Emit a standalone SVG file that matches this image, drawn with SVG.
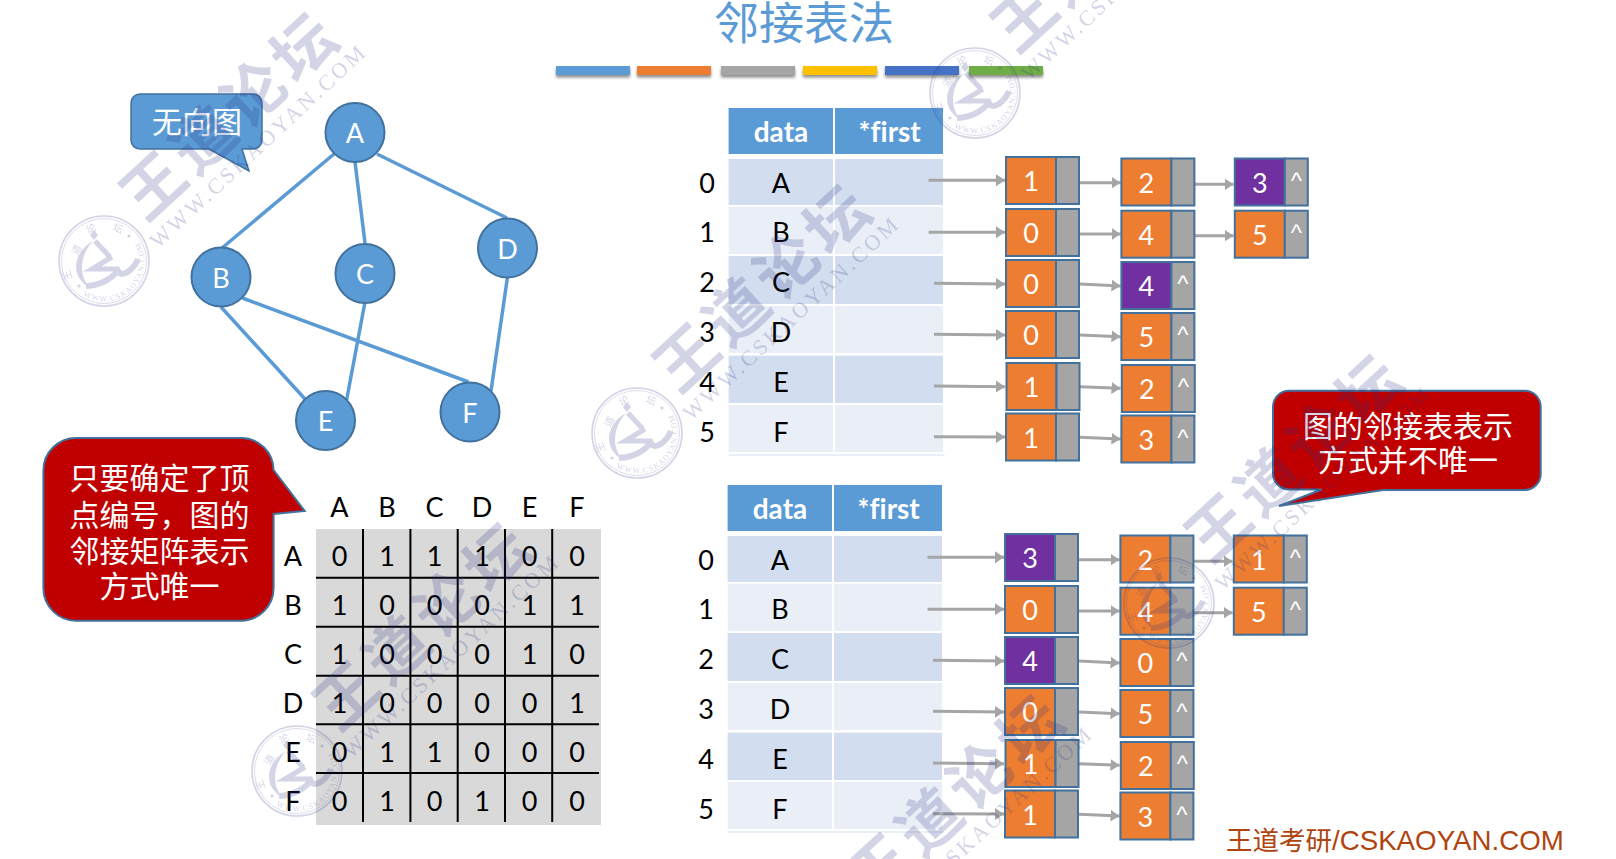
<svg xmlns="http://www.w3.org/2000/svg" xmlns:xlink="http://www.w3.org/1999/xlink" width="1616" height="859" viewBox="0 0 1616 859">
<style>
text{font-family:Lato,"Noto Sans CJK SC",sans-serif;text-anchor:middle;font-variant-ligatures:none}
.cjk{font-family:"Noto Sans CJK SC","Noto Sans",sans-serif;font-size:30px;fill:#fff}
.title{font-family:"Noto Sans CJK SC",sans-serif;font-size:45px;fill:#5b9bd5}
.v{font-size:27px;fill:#000}
.h{font-size:28px;font-weight:700;fill:#fff}
.w{font-size:27px;fill:#fff}
.c{font-size:24px;fill:#fff;font-family:"Liberation Sans",sans-serif}
.vert{fill:#5b9bd5;stroke:#41719c;stroke-width:2}
.edge{stroke:#5b9bd5;stroke-width:3.5;fill:none}
.arr{stroke:#a5a5a5;stroke-width:3;fill:none;marker-end:url(#ah)}
.hd{fill:#5b9bd5}.r1{fill:#d2deef}.r2{fill:#eaeff7}
.o{fill:#ed7d31;stroke:#41719c;stroke-width:2}
.p{fill:#7030a0;stroke:#41719c;stroke-width:2}
.g{fill:#a5a5a5;stroke:#41719c;stroke-width:2}
.gl{stroke:#000;stroke-width:2;fill:none}
.red{fill:#c00000;stroke:#41719c;stroke-width:2}
.wm{fill:#232d82}
.wms{fill:none;stroke:#232d82}
</style>
<defs>
<marker id="ah" markerUnits="userSpaceOnUse" markerWidth="11" markerHeight="13" refX="9" refY="6" orient="auto" viewBox="0 0 11 12"><path d="M0 0L9 6L0 12Z" fill="#a5a5a5"/></marker>
<filter id="sh" x="-10%" y="-50%" width="120%" height="220%"><feDropShadow dx="0" dy="2.5" stdDeviation="1.5" flood-color="#000" flood-opacity=".45"/></filter>
<path id="ringb" d="M-24 32A40 40 0 0 0 36 -18"/>
<g id="mark" opacity=".2">
<text class="wm" transform="translate(127,-146) rotate(-42.6)" y="22" style="font-family:'Noto Sans CJK SC',sans-serif;font-size:62px;font-weight:700;letter-spacing:6px">王道论坛</text>
<text class="wm" transform="translate(153,-114.500) rotate(-43)" y="8" textLength="285" style="font-family:'Liberation Serif',serif;font-size:22px">WWW.CSKAOYAN.COM</text>
<circle class="wms" r="45" stroke-width="1.6"/><circle class="wms" r="42.500" stroke-width=".8"/>
<g style="font-family:'Noto Sans CJK SC',sans-serif;font-size:10px">
<text class="wm" transform="translate(-36,14) rotate(-110)" y="3">王</text>
<text class="wm" transform="translate(-27,-11) rotate(-62)" y="3">道</text>
<text class="wm" transform="translate(-13,-32) rotate(-22)" y="3">论</text>
<text class="wm" transform="translate(14,-32) rotate(22)" y="3">坛</text>
</g>
<text class="wm" style="font-family:'Liberation Serif',serif;font-size:8px;letter-spacing:1.1px;text-anchor:start"><textPath href="#ringb" startOffset="4">WWW.CSKAOYAN.COM</textPath></text>
<path class="wm" d="M-11 -20C-32 -8-34 16-14 27C-26 14-24-6-11-20Z"/>
<path class="wms" stroke-width="5" d="M-9 -20L6 -4M8 -4L-12 8L14 8"/>
<path class="wms" stroke-width="6" d="M-18 25C0 24 8 16 14 10C18 18 30 8 34 -2"/>
<path class="wm" d="M-14 -26l4-5 4 5-4 5Z"/>
<circle class="wm" cx="25" cy="-25" r="1.6"/><circle class="wm" cx="-25" cy="25" r="1.6"/>
</g>
</defs>
<rect width="1616" height="859" fill="#fff"/>
<text class="title" x="804" y="39.500">邻接表法</text>
<g id="title-bars" filter="url(#sh)">
<rect x="556" y="66" width="74" height="9" fill="#5b9bd5"/>
<rect x="637" y="66" width="74" height="9" fill="#ed7d31"/>
<rect x="721" y="66" width="74" height="9" fill="#a5a5a5"/>
<rect x="803" y="66" width="74" height="9" fill="#ffc000"/>
<rect x="885" y="66" width="74" height="9" fill="#4472c4"/>
<rect x="969" y="66" width="74" height="9" fill="#70ad47"/>
</g>
<g id="callout-undirected">
<path d="M140 94H253a9 9 0 0 1 9 9V140a9 9 0 0 1-9 9H242L249 171L209 149H140a9 9 0 0 1-9-9V103a9 9 0 0 1 9-9Z" fill="#5b9bd5" stroke="#41719c" stroke-width="1.5"/>
<text class="cjk" x="197" y="133">无向图</text>
</g>
<g id="table1-array">
<rect class="hd" x="728.600" y="108" width="104.400" height="46"/><rect class="hd" x="835" y="108" width="108" height="46"/>
<rect class="r1" x="728.600" y="159" width="104.400" height="46"/><rect class="r1" x="835" y="159" width="108" height="46"/>
<rect class="r2" x="728.600" y="206.700" width="104.400" height="47.300"/><rect class="r2" x="835" y="206.700" width="108" height="47.300"/>
<rect class="r1" x="728.600" y="256" width="104.400" height="48"/><rect class="r1" x="835" y="256" width="108" height="48"/>
<rect class="r2" x="728.600" y="306" width="104.400" height="47"/><rect class="r2" x="835" y="306" width="108" height="47"/>
<rect class="r1" x="728.600" y="355.700" width="104.400" height="47.300"/><rect class="r1" x="835" y="355.700" width="108" height="47.300"/>
<rect class="r2" x="728.600" y="405" width="104.400" height="47"/><rect class="r2" x="835" y="405" width="108" height="47"/>
<rect class="r2" x="728.600" y="454" width="216" height="2"/>
<text class="h" x="781" y="142">data</text><text class="h" x="889.700" y="142">*first</text>
<text class="v" x="707" y="192.500">0</text><text class="v" x="781" y="192.500">A</text>
<text class="v" x="707" y="241.500">1</text><text class="v" x="781" y="241.500">B</text>
<text class="v" x="707" y="291.500">2</text><text class="v" x="781" y="291.500">C</text>
<text class="v" x="707" y="341.500">3</text><text class="v" x="781" y="341.500">D</text>
<text class="v" x="707" y="391.500">4</text><text class="v" x="781" y="391.500">E</text>
<text class="v" x="707" y="441.500">5</text><text class="v" x="781" y="441.500">F</text>
</g>
<g id="table2-array" transform="translate(-1,377)">
<rect class="hd" x="728.600" y="108" width="104.400" height="46"/><rect class="hd" x="835" y="108" width="108" height="46"/>
<rect class="r1" x="728.600" y="159" width="104.400" height="46"/><rect class="r1" x="835" y="159" width="108" height="46"/>
<rect class="r2" x="728.600" y="206.700" width="104.400" height="47.300"/><rect class="r2" x="835" y="206.700" width="108" height="47.300"/>
<rect class="r1" x="728.600" y="256" width="104.400" height="48"/><rect class="r1" x="835" y="256" width="108" height="48"/>
<rect class="r2" x="728.600" y="306" width="104.400" height="47"/><rect class="r2" x="835" y="306" width="108" height="47"/>
<rect class="r1" x="728.600" y="355.700" width="104.400" height="47.300"/><rect class="r1" x="835" y="355.700" width="108" height="47.300"/>
<rect class="r2" x="728.600" y="405" width="104.400" height="47"/><rect class="r2" x="835" y="405" width="108" height="47"/>
<rect class="r2" x="728.600" y="454" width="216" height="2"/>
<text class="h" x="781" y="142">data</text><text class="h" x="889.700" y="142">*first</text>
<text class="v" x="707" y="192.500">0</text><text class="v" x="781" y="192.500">A</text>
<text class="v" x="707" y="241.500">1</text><text class="v" x="781" y="241.500">B</text>
<text class="v" x="707" y="291.500">2</text><text class="v" x="781" y="291.500">C</text>
<text class="v" x="707" y="341.500">3</text><text class="v" x="781" y="341.500">D</text>
<text class="v" x="707" y="391.500">4</text><text class="v" x="781" y="391.500">E</text>
<text class="v" x="707" y="441.500">5</text><text class="v" x="781" y="441.500">F</text>
</g>
<g id="connectors">
<path class="edge" d="M334 154L222 248M355 162L365 243M377 154L507 218M221 307L305 399M242.500 298L468.500 382M365 302L346.600 400M507.500 277L491 391"/>
<g id="t1-arrows">
<path class="arr" d="M928.600 180.300H1005"/><path class="arr" d="M928.600 232.300H1005"/><path class="arr" d="M934 283.300L1005 284"/><path class="arr" d="M934 334.300L1005 335"/><path class="arr" d="M934 386L1005 386.700"/><path class="arr" d="M934 436.700L1005 437"/>
<path class="arr" d="M1080 182.700H1120.500"/><path class="arr" d="M1080 234H1120.500"/><path class="arr" d="M1080 284L1120.500 286"/><path class="arr" d="M1080 335L1120.500 336.700"/><path class="arr" d="M1080 386.700L1120.500 388.300"/><path class="arr" d="M1080 437.300L1120.500 439"/>
<path class="arr" d="M1194 184.300H1233.500"/><path class="arr" d="M1194 235.700H1233.500"/>
</g>
<g id="t2-arrows" transform="translate(-1,377)">
<path class="arr" d="M928.600 180.300H1005"/><path class="arr" d="M928.600 232.300H1005"/><path class="arr" d="M934 283.300L1005 284"/><path class="arr" d="M934 334.300L1005 335"/><path class="arr" d="M934 386L1005 386.700"/><path class="arr" d="M934 436.700L1005 437"/>
<path class="arr" d="M1080 182.700H1120.500"/><path class="arr" d="M1080 234H1120.500"/><path class="arr" d="M1080 284L1120.500 286"/><path class="arr" d="M1080 335L1120.500 336.700"/><path class="arr" d="M1080 386.700L1120.500 388.300"/><path class="arr" d="M1080 437.300L1120.500 439"/>
<path class="arr" d="M1194 184.300H1233.500"/><path class="arr" d="M1194 235.700H1233.500"/>
</g>
</g>
<g id="v-A"><circle class="vert" cx="355" cy="132.500" r="29.500"/><text class="w" x="355" y="143">A</text></g>
<g id="v-B"><circle class="vert" cx="221" cy="277" r="29.500"/><text class="w" x="221" y="288">B</text></g>
<g id="v-C"><circle class="vert" cx="365" cy="273.500" r="29.500"/><text class="w" x="365" y="284">C</text></g>
<g id="v-D"><circle class="vert" cx="507.500" cy="248" r="29.500"/><text class="w" x="507.500" y="259">D</text></g>
<g id="v-E"><circle class="vert" cx="325.500" cy="420.500" r="29.500"/><text class="w" x="325.500" y="431">E</text></g>
<g id="v-F"><circle class="vert" cx="470" cy="412" r="29.500"/><text class="w" x="470" y="423">F</text></g>
<g id="t1-nodes">
<g id="t1-n00" transform="translate(1006,157)"><rect class="o" width="50" height="47"/><rect class="g" x="50" width="23" height="47"/><text class="w" x="25" y="34">1</text></g>
<g id="t1-n01" transform="translate(1121.400,158.500)"><rect class="o" width="50" height="47"/><rect class="g" x="50" width="23" height="47"/><text class="w" x="25" y="34">2</text></g>
<g id="t1-n02" transform="translate(1234.800,158.500)"><rect class="p" width="50" height="47"/><rect class="g" x="50" width="23" height="47"/><text class="w" x="25" y="34">3</text><text class="c" x="61.500" y="30">^</text></g>
<g id="t1-n10" transform="translate(1006,209)"><rect class="o" width="50" height="47"/><rect class="g" x="50" width="23" height="47"/><text class="w" x="25" y="34">0</text></g>
<g id="t1-n11" transform="translate(1121.400,210.700)"><rect class="o" width="50" height="47"/><rect class="g" x="50" width="23" height="47"/><text class="w" x="25" y="34">4</text></g>
<g id="t1-n12" transform="translate(1234.800,210.700)"><rect class="o" width="50" height="47"/><rect class="g" x="50" width="23" height="47"/><text class="w" x="25" y="34">5</text><text class="c" x="61.500" y="30">^</text></g>
<g id="t1-n20" transform="translate(1006,260)"><rect class="o" width="50" height="47"/><rect class="g" x="50" width="23" height="47"/><text class="w" x="25" y="34">0</text></g>
<g id="t1-n21" transform="translate(1121.400,262)"><rect class="p" width="50" height="47"/><rect class="g" x="50" width="23" height="47"/><text class="w" x="25" y="34">4</text><text class="c" x="61.500" y="30">^</text></g>
<g id="t1-n30" transform="translate(1006,311)"><rect class="o" width="50" height="47"/><rect class="g" x="50" width="23" height="47"/><text class="w" x="25" y="34">0</text></g>
<g id="t1-n31" transform="translate(1121.400,313)"><rect class="o" width="50" height="47"/><rect class="g" x="50" width="23" height="47"/><text class="w" x="25" y="34">5</text><text class="c" x="61.500" y="30">^</text></g>
<g id="t1-n40" transform="translate(1006.500,363)"><rect class="o" width="50" height="47"/><rect class="g" x="50" width="23" height="47"/><text class="w" x="25" y="34">1</text></g>
<g id="t1-n41" transform="translate(1121.800,365)"><rect class="o" width="50" height="47"/><rect class="g" x="50" width="23" height="47"/><text class="w" x="25" y="34">2</text><text class="c" x="61.500" y="30">^</text></g>
<g id="t1-n50" transform="translate(1006,413.500)"><rect class="o" width="50" height="47"/><rect class="g" x="50" width="23" height="47"/><text class="w" x="25" y="34">1</text></g>
<g id="t1-n51" transform="translate(1121.400,415.500)"><rect class="o" width="50" height="47"/><rect class="g" x="50" width="23" height="47"/><text class="w" x="25" y="34">3</text><text class="c" x="61.500" y="30">^</text></g>
</g>
<g id="t2-nodes" transform="translate(-1,377)">
<g id="t2-n00" transform="translate(1006,157)"><rect class="p" width="50" height="47"/><rect class="g" x="50" width="23" height="47"/><text class="w" x="25" y="34">3</text></g>
<g id="t2-n01" transform="translate(1121.400,158.500)"><rect class="o" width="50" height="47"/><rect class="g" x="50" width="23" height="47"/><text class="w" x="25" y="34">2</text></g>
<g id="t2-n02" transform="translate(1234.800,158.500)"><rect class="o" width="50" height="47"/><rect class="g" x="50" width="23" height="47"/><text class="w" x="25" y="34">1</text><text class="c" x="61.500" y="30">^</text></g>
<g id="t2-n10" transform="translate(1006,209)"><rect class="o" width="50" height="47"/><rect class="g" x="50" width="23" height="47"/><text class="w" x="25" y="34">0</text></g>
<g id="t2-n11" transform="translate(1121.400,210.700)"><rect class="o" width="50" height="47"/><rect class="g" x="50" width="23" height="47"/><text class="w" x="25" y="34">4</text></g>
<g id="t2-n12" transform="translate(1234.800,210.700)"><rect class="o" width="50" height="47"/><rect class="g" x="50" width="23" height="47"/><text class="w" x="25" y="34">5</text><text class="c" x="61.500" y="30">^</text></g>
<g id="t2-n20" transform="translate(1006,260)"><rect class="p" width="50" height="47"/><rect class="g" x="50" width="23" height="47"/><text class="w" x="25" y="34">4</text></g>
<g id="t2-n21" transform="translate(1121.400,262)"><rect class="o" width="50" height="47"/><rect class="g" x="50" width="23" height="47"/><text class="w" x="25" y="34">0</text><text class="c" x="61.500" y="30">^</text></g>
<g id="t2-n30" transform="translate(1006,311)"><rect class="o" width="50" height="47"/><rect class="g" x="50" width="23" height="47"/><text class="w" x="25" y="34">0</text></g>
<g id="t2-n31" transform="translate(1121.400,313)"><rect class="o" width="50" height="47"/><rect class="g" x="50" width="23" height="47"/><text class="w" x="25" y="34">5</text><text class="c" x="61.500" y="30">^</text></g>
<g id="t2-n40" transform="translate(1006.500,363)"><rect class="o" width="50" height="47"/><rect class="g" x="50" width="23" height="47"/><text class="w" x="25" y="34">1</text></g>
<g id="t2-n41" transform="translate(1121.800,365)"><rect class="o" width="50" height="47"/><rect class="g" x="50" width="23" height="47"/><text class="w" x="25" y="34">2</text><text class="c" x="61.500" y="30">^</text></g>
<g id="t2-n50" transform="translate(1006,413.500)"><rect class="o" width="50" height="47"/><rect class="g" x="50" width="23" height="47"/><text class="w" x="25" y="34">1</text></g>
<g id="t2-n51" transform="translate(1121.400,415.500)"><rect class="o" width="50" height="47"/><rect class="g" x="50" width="23" height="47"/><text class="w" x="25" y="34">3</text><text class="c" x="61.500" y="30">^</text></g>
</g>
<g id="matrix">
<rect x="316" y="529" width="285" height="296" fill="#d9d9d9"/>
<path class="gl" d="M363 529V822M410.400 529V822M457.700 529V822M505 529V822M552.200 529V822M316 577.700H599M316 626.700H599M316 675.700H599M316 724.300H599M316 773H599"/>
<text class="v" x="339.500" y="516.500">A</text><text class="v" x="387" y="516.500">B</text><text class="v" x="434.500" y="516.500">C</text><text class="v" x="482" y="516.500">D</text><text class="v" x="529.500" y="516.500">E</text><text class="v" x="577" y="516.500">F</text>
<text class="v" x="293" y="565.500">A</text><text class="v" x="339.500" y="565.500">0</text><text class="v" x="387" y="565.500">1</text><text class="v" x="434.500" y="565.500">1</text><text class="v" x="482" y="565.500">1</text><text class="v" x="529.500" y="565.500">0</text><text class="v" x="577" y="565.500">0</text>
<text class="v" x="293" y="614.500">B</text><text class="v" x="339.500" y="614.500">1</text><text class="v" x="387" y="614.500">0</text><text class="v" x="434.500" y="614.500">0</text><text class="v" x="482" y="614.500">0</text><text class="v" x="529.500" y="614.500">1</text><text class="v" x="577" y="614.500">1</text>
<text class="v" x="293" y="663.500">C</text><text class="v" x="339.500" y="663.500">1</text><text class="v" x="387" y="663.500">0</text><text class="v" x="434.500" y="663.500">0</text><text class="v" x="482" y="663.500">0</text><text class="v" x="529.500" y="663.500">1</text><text class="v" x="577" y="663.500">0</text>
<text class="v" x="293" y="712.500">D</text><text class="v" x="339.500" y="712.500">1</text><text class="v" x="387" y="712.500">0</text><text class="v" x="434.500" y="712.500">0</text><text class="v" x="482" y="712.500">0</text><text class="v" x="529.500" y="712.500">0</text><text class="v" x="577" y="712.500">1</text>
<text class="v" x="293" y="761.500">E</text><text class="v" x="339.500" y="761.500">0</text><text class="v" x="387" y="761.500">1</text><text class="v" x="434.500" y="761.500">1</text><text class="v" x="482" y="761.500">0</text><text class="v" x="529.500" y="761.500">0</text><text class="v" x="577" y="761.500">0</text>
<text class="v" x="293" y="810.500">F</text><text class="v" x="339.500" y="810.500">0</text><text class="v" x="387" y="810.500">1</text><text class="v" x="434.500" y="810.500">0</text><text class="v" x="482" y="810.500">1</text><text class="v" x="529.500" y="810.500">0</text><text class="v" x="577" y="810.500">0</text>
</g>
<g id="callout-matrix">
<path class="red" d="M76 438H241a32.600 32.600 0 0 1 32.600 32L304.700 511L273.600 514V588a32.600 32.600 0 0 1-32.600 32.700H76a32.600 32.600 0 0 1-32.600-32.700V470.600A32.600 32.600 0 0 1 76 438Z"/>
<text class="cjk" x="159.500" y="489">只要确定了顶</text>
<text class="cjk" x="159.500" y="526">点编号，图的</text>
<text class="cjk" x="159.500" y="562">邻接矩阵表示</text>
<text class="cjk" x="159.500" y="597">方式唯一</text>
</g>
<g id="callout-list">
<path class="red" d="M1289 390.700H1524.700a16 16 0 0 1 16 16V474a16 16 0 0 1-16 16H1383L1279 506L1321.700 489.500H1289a16 16 0 0 1-16-16V406.700a16 16 0 0 1 16-16Z"/>
<text class="cjk" x="1408" y="437">图的邻接表表示</text>
<text class="cjk" x="1408" y="471">方式并不唯一</text>
</g>
<g id="watermarks">
<use href="#mark" transform="translate(104,261)"/>
<use href="#mark" transform="translate(637,433)"/>
<use href="#mark" transform="translate(975,93)"/>
<use href="#mark" transform="translate(297,771)"/>
<use href="#mark" transform="translate(1169,603)"/>
<use href="#mark" transform="translate(830,943)"/>
</g>
<text id="footer" x="1226" y="850" style="text-anchor:start;font-family:'Liberation Sans','Noto Sans CJK SC',sans-serif;font-size:27.700px;fill:#b0440e"><tspan style="font-family:'Noto Sans CJK SC',sans-serif;font-size:26.500px">王道考研</tspan>/CSKAOYAN.COM</text>
</svg>
